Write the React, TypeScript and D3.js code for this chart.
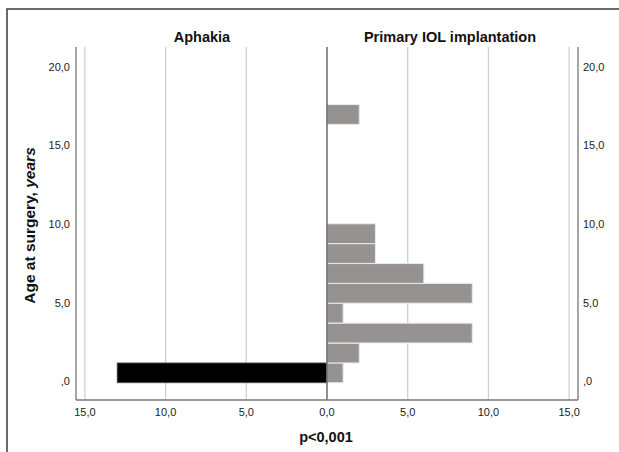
import React from 'react';
import * as d3 from 'd3';

// age bins (lower edge, years)
const ageBinStart = [-0.08, 1.18, 2.45, 3.72, 4.98, 6.24, 7.51, 8.77, 16.35];
const binWidth = 1.26;
const aphakia = [13, 0, 0, 0, 0, 0, 0, 0, 0];
const primaryIOL = [1, 2, 9, 1, 9, 6, 3, 3, 2];

const yTicks = [0, 5, 10, 15, 20];
const yTickLabels = [',0', '5,0', '10,0', '15,0', '20,0'];
const xTicks = [-15, -10, -5, 0, 5, 10, 15];
const xTickLabels = ['15,0', '10,0', '5,0', '0,0', '5,0', '10,0', '15,0'];

export default function App() {
  const width = 619;
  const height = 452;
  const left = 76, right = 578, top = 47, bottom = 400;

  const x = d3.scaleLinear().domain([-15.55, 15.55]).range([left, right]);
  const y = d3.scaleLinear().domain([0, 20]).range([381.5, 67]);

  const font = '"Liberation Sans", Arial, sans-serif';

  return (
    <svg width={width} height={height} style={{ position: 'absolute', left: 0, top: 0, background: '#fff' }} fontFamily={font}>
      {/* outer frame */}
      <rect x={7} y={9} width={640} height={480} fill="none" stroke="#3a3a3a" strokeWidth={1.5} />

      {/* grid lines */}
      {xTicks.filter(t => t !== 0).map((t, i) => (
        <line key={'g' + i} x1={x(t)} x2={x(t)} y1={top} y2={bottom} stroke="#cfcfcf" strokeWidth={1.3} />
      ))}

      {/* bars */}
      {ageBinStart.map((b, i) => (
        <g key={'b' + i}>
          {aphakia[i] > 0 && (
            <rect x={x(-aphakia[i])} y={y(b + binWidth)} width={x(0) - x(-aphakia[i])}
              height={y(b) - y(b + binWidth)} fill="#000" stroke="#555" strokeWidth={0.8} />
          )}
          {primaryIOL[i] > 0 && (
            <rect x={x(0)} y={y(b + binWidth)} width={x(primaryIOL[i]) - x(0)}
              height={y(b) - y(b + binWidth)} fill="#979292" stroke="#e4ecec" strokeWidth={1} />
          )}
        </g>
      ))}

      {/* zero line */}
      <line x1={x(0)} x2={x(0)} y1={top} y2={bottom} stroke="#555" strokeWidth={1.3} />

      {/* axes */}
      <line x1={left} x2={left} y1={top} y2={bottom} stroke="#777" strokeWidth={1.3} />
      <line x1={right} x2={right} y1={top} y2={bottom} stroke="#777" strokeWidth={1.3} />
      <line x1={left} x2={right} y1={bottom} y2={bottom} stroke="#777" strokeWidth={1.3} />

      {/* y tick labels */}
      {yTicks.map((t, i) => (
        <g key={'y' + i} fontSize={11} fill="#222">
          <text x={70} y={y(t)} dy="0.35em" textAnchor="end">{yTickLabels[i]}</text>
          <text x={583} y={y(t)} dy="0.35em" textAnchor="start">{yTickLabels[i]}</text>
        </g>
      ))}

      {/* x tick labels */}
      {xTicks.map((t, i) => (
        <text key={'x' + i} x={x(t)} y={412} dy="0.35em" textAnchor="middle" fontSize={11} fill="#222">{xTickLabels[i]}</text>
      ))}

      {/* titles */}
      <text x={202} y={37} dy="0.35em" textAnchor="middle" fontSize={14.5} fontWeight="bold" fill="#111">Aphakia</text>
      <text x={450} y={37} dy="0.35em" textAnchor="middle" fontSize={14.5} fontWeight="bold" fill="#111">Primary IOL implantation</text>
      <text x={326} y={437} dy="0.35em" textAnchor="middle" fontSize={14.5} fontWeight="bold" fill="#111">p&lt;0,001</text>
      <text transform={`translate(30,${(top + bottom) / 2 + 2}) rotate(-90)`} dy="0.35em" textAnchor="middle" fontSize={15.5} fontWeight="bold" fill="#111">
        Age at surgery, <tspan fontStyle="italic">years</tspan>
      </text>
    </svg>
  );
}
